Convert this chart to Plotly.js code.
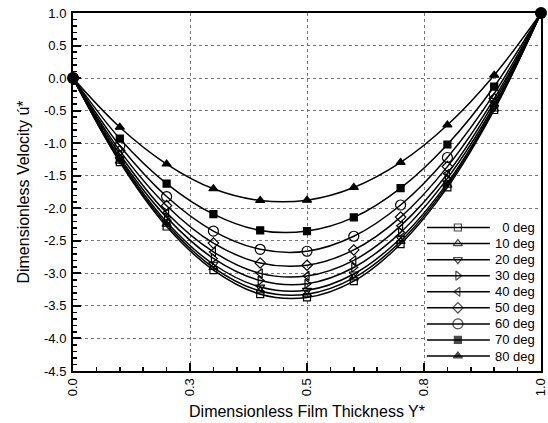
<!DOCTYPE html>
<html>
<head>
<meta charset="utf-8">
<script src="https://cdn.plot.ly/plotly-3.0.1.min.js"></script>
<style>html,body{margin:0;padding:0;background:#fff;}#chart{width:548px;height:423px;}</style>
</head>
<body>
<div id="chart"></div>
<script>
// ---- data ----
const filmThickness = [0, 0.1, 0.2, 0.3, 0.4, 0.5, 0.6, 0.7, 0.8, 0.9, 1.0];
const deg0  = [0, -1.29,  -2.28,  -2.95,  -3.32, -3.37,  -3.12, -2.55,  -1.68,  -0.49,  1.0];
const deg10 = [0, -1.275, -2.245, -2.91,  -3.27, -3.32,  -3.07, -2.51,  -1.645, -0.475, 1.0];
const deg20 = [0, -1.25,  -2.21,  -2.86,  -3.21, -3.26,  -3.01, -2.46,  -1.61,  -0.45,  1.0];
const deg30 = [0, -1.22,  -2.14,  -2.77,  -3.11, -3.16,  -2.91, -2.37,  -1.54,  -0.42,  1.0];
const deg40 = [0, -1.17,  -2.07,  -2.67,  -3.00, -3.04,  -2.80, -2.27,  -1.47,  -0.37,  1.0];
const deg50 = [0, -1.115, -1.96,  -2.535, -2.84, -2.875, -2.64, -2.135, -1.36,  -0.315, 1.0];
const deg60 = [0, -1.04,  -1.82,  -2.35,  -2.63, -2.66,  -2.43, -1.95,  -1.22,  -0.24,  1.0];
const deg70 = [0, -0.93,  -1.62,  -2.09,  -2.34, -2.35,  -2.14, -1.69,  -1.02,  -0.13,  1.0];
const deg80 = [0, -0.755, -1.32,  -1.70,  -1.88, -1.875, -1.68, -1.295, -0.72,  0.045,  1.0];
const seriesNames = ['\u20070 deg', '10 deg', '20 deg', '30 deg', '40 deg', '50 deg', '60 deg', '70 deg', '80 deg'];
const seriesValues = [deg0, deg10, deg20, deg30, deg40, deg50, deg60, deg70, deg80];
const endpointX = [0, 1];
const endpointY = [0, 1];
const xTickVals = [0, 0.25, 0.5, 0.75, 1.0];
const xTickText = ['0.0', '0.3', '0.5', '0.8', '1.0'];
const yTickVals = [1.0, 0.5, 0.0, -0.5, -1.0, -1.5, -2.0, -2.5, -3.0, -3.5, -4.0, -4.5];
const yTickText = ['1.0', '0.5', '0.0', '-0.5', '-1.0', '-1.5', '-2.0', '-2.5', '-3.0', '-3.5', '-4.0', '-4.5'];

// ---- styles ----
const symbols = ['square-open', 'triangle-up-open', 'triangle-down-open', 'triangle-right-open',
                 'triangle-left-open', 'diamond-open', 'circle-open', 'square', 'triangle-up'];
const sizes = [7, 8, 8, 8, 8, 8, 10, 7, 8];
const FONT = 'Liberation Sans, Arial, Helvetica, sans-serif';

const traces = [];
seriesValues.forEach((vals, i) => {
  traces.push({
    type: 'scatter', mode: 'lines+markers', name: seriesNames[i],
    x: filmThickness, y: vals, xaxis: 'x', yaxis: 'y',
    line: {color: '#000', width: 1.5, shape: 'spline', smoothing: 1},
    marker: {symbol: symbols[i], size: sizes[i], color: '#000', line: {color: '#000', width: 1.2}},
    showlegend: false
  });
});
traces.push({
  type: 'scatter', mode: 'markers', x: endpointX, y: endpointY, xaxis: 'x', yaxis: 'y',
  marker: {symbol: 'circle', size: 12, color: '#000'}, cliponaxis: false, showlegend: false, hoverinfo: 'skip'
});

// ---- hand-drawn legend inset (x2/y2) ----
const legLineX = [0.009, 0.283, 0.566];
const legTextX = 0.982;
const annotations = [];
seriesNames.forEach((nm, i) => {
  traces.push({
    type: 'scatter', mode: 'lines+markers', x: legLineX, y: [i, i, i], xaxis: 'x2', yaxis: 'y2',
    line: {color: '#000', width: 1.5},
    marker: {symbol: symbols[i], size: [0, sizes[i], 0], color: '#000', line: {color: '#000', width: 1.2}},
    showlegend: false, hoverinfo: 'skip', cliponaxis: false
  });
  annotations.push({
    xref: 'x2', yref: 'y2', x: legTextX, y: i, text: nm, showarrow: false,
    xanchor: 'right', yanchor: 'middle', font: {family: FONT, size: 13, color: '#000'}
  });
});

const layout = {
  width: 548, height: 423,
  margin: {l: 73, r: 7, t: 13, b: 52},
  paper_bgcolor: '#fff', plot_bgcolor: '#fff',
  font: {family: FONT, size: 13, color: '#000'},
  showlegend: false,
  xaxis: {
    domain: [0, 1], range: [0, 1], tickmode: 'array', tickvals: xTickVals, ticktext: xTickText,
    tickangle: -90, ticks: 'inside', ticklen: 8, tickwidth: 2, tickcolor: '#000',
    ticklabeloverflow: 'allow',
    minor: {tickmode: 'linear', tick0: 0, dtick: 0.05, ticks: 'inside', ticklen: 4, tickwidth: 1.5, tickcolor: '#000', showgrid: false},
    showgrid: true, gridcolor: '#777', griddash: 'dot', gridwidth: 1,
    showline: true, linecolor: '#000', linewidth: 2, mirror: true, zeroline: false,
    tickfont: {family: FONT, size: 13, color: '#000'},
    title: {text: 'Dimensionless Film Thickness Y*', font: {family: FONT, size: 16, color: '#000'}, standoff: 11},
    anchor: 'y', automargin: false
  },
  yaxis: {
    domain: [0, 1], range: [-4.5, 1.0], tickmode: 'array', tickvals: yTickVals, ticktext: yTickText,
    ticks: 'inside', ticklen: 8, tickwidth: 2, tickcolor: '#000',
    minor: {tickmode: 'linear', tick0: 0, dtick: 0.1, ticks: 'inside', ticklen: 4, tickwidth: 1.5, tickcolor: '#000', showgrid: false},
    showgrid: true, gridcolor: '#777', griddash: 'dot', gridwidth: 1,
    showline: true, linecolor: '#000', linewidth: 2, mirror: true, zeroline: false,
    tickfont: {family: FONT, size: 13, color: '#000'}, ticklabelstandoff: 2,
    title: {text: 'Dimensionless Velocity ú*', font: {family: FONT, size: 16, color: '#000'}, standoff: 10},
    anchor: 'x', automargin: false
  },
  xaxis2: {domain: [0.754, 0.9957], range: [0, 1], visible: false, anchor: 'y2', fixedrange: true},
  yaxis2: {domain: [0.014, 0.4232], range: [8.62, -0.5], visible: false, anchor: 'x2', fixedrange: true},
  annotations: annotations
};

Plotly.newPlot('chart', traces, layout, {staticPlot: true, displayModeBar: false});
</script>
</body>
</html>
